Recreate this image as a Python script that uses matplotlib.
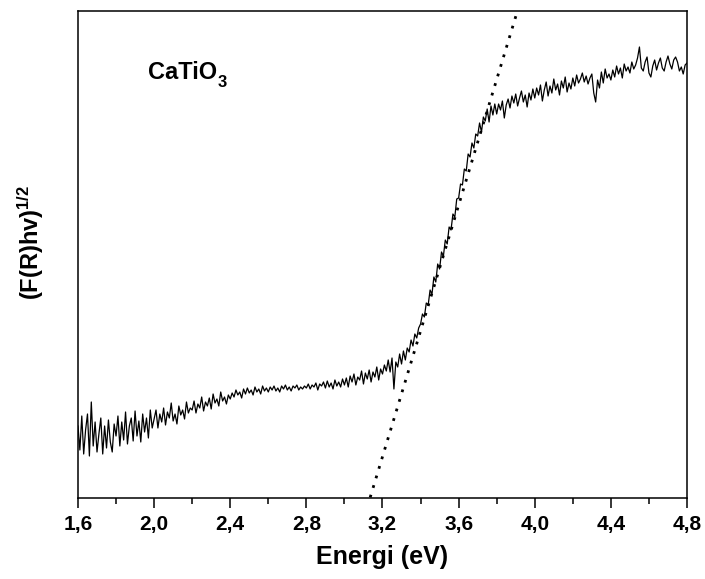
import matplotlib
matplotlib.use("Agg")
import matplotlib.pyplot as plt
from matplotlib.ticker import MultipleLocator, FuncFormatter
import numpy as np

plt.rcParams['font.family'] = ['Liberation Sans', 'DejaVu Sans']
plt.rcParams['font.weight'] = 'bold'
plt.rcParams['mathtext.fontset'] = 'custom'
plt.rcParams['mathtext.rm'] = 'Liberation Sans:bold'
plt.rcParams['mathtext.bf'] = 'Liberation Sans:bold'
plt.rcParams['mathtext.it'] = 'Liberation Sans:bold'

# energy grid 1.60 .. 4.80 eV, step 0.01
energy = np.round(np.linspace(1.6, 4.8, 321), 2)

# (F(R)hv)^1/2 in arbitrary units (20 values per 0.2 eV)
signal = [
    72, 48, 82, 44, 68, 84, 42, 96, 52, 76, 46, 64, 80, 44, 72, 50, 78, 56, 46, 74,
    62, 82, 52, 76, 58, 86, 54, 72, 80, 57, 87, 62, 77, 56, 84, 66, 80, 60, 88, 70,
    79, 88, 70, 84, 76, 90, 73, 86, 80, 95, 77, 84, 74, 92, 83, 88, 79, 96, 85, 90,
    88, 97, 85, 94, 90, 101, 87, 96, 92, 100, 89, 104, 95, 99, 92, 106, 97, 101, 94, 103,
    99, 105, 101, 108, 103, 106, 100, 109, 104, 110, 105, 108, 103, 111, 106, 109, 104, 112, 107, 110,
    106, 111, 108, 112, 107, 110, 106, 112, 109, 113, 108, 111, 107, 112, 110, 113, 108, 111, 109, 112,
    110, 114, 109, 113, 111, 115, 108, 114, 112, 116, 110, 117, 111, 115, 109, 118, 112, 116, 111, 119,
    113, 120, 111, 122, 116, 124, 113, 121, 118, 127, 114, 125, 119, 128, 116, 126, 121, 131, 118, 129,
    124, 133, 127, 138, 126, 140, 109, 136, 131, 144, 134, 147, 138, 150, 146, 158, 152, 164, 160, 170,
    174, 184, 181, 195, 193, 208, 204, 221, 216, 234, 229, 246, 242, 258, 254, 271, 268, 284, 281, 299,
    300, 314, 313, 329, 327, 344, 341, 355, 350, 364, 362, 375, 366, 381, 377, 389, 376, 392, 383, 394,
    384, 394, 388, 397, 380, 393, 399, 390, 402, 395, 404, 392, 400, 407, 396, 403, 391, 405, 398, 409,
    400, 410, 403, 413, 397, 408, 416, 402, 412, 405, 419, 408, 414, 403, 417, 410, 421, 406, 415, 409,
    420, 412, 423, 415, 419, 425, 416, 422, 414, 420, 424, 405, 396, 418, 410, 426, 415, 429, 420, 424,
    418, 428, 421, 432, 424, 430, 420, 434, 427, 431, 425, 436, 429, 433, 440, 451, 430, 427, 436, 441,
    425, 421, 432, 438, 428, 435, 440, 430, 427, 436, 442, 434, 429, 438, 441, 436, 427, 431, 424, 433,
    435,
]

# linear fit of the absorption edge (Tauc line)
fit_energy = [3.12, 3.92]
fit_signal = [-9, 494]

fig = plt.figure(figsize=(7.05, 5.79), dpi=100)
ax = fig.add_axes([0.1106, 0.1399, 0.8639, 0.8411])

ax.plot(energy, signal, color='black', lw=0.9)
ax.plot(fit_energy, fit_signal, color='black', lw=2,
        linestyle=(0, (1, 2.6)), dash_capstyle='butt')

ax.set_xlim(1.6, 4.8)
ax.set_ylim(0, 487)

ax.xaxis.set_major_locator(MultipleLocator(0.4))
ax.xaxis.set_minor_locator(MultipleLocator(0.2))
ax.xaxis.set_major_formatter(FuncFormatter(lambda v, p: f'{v:.1f}'.replace('.', ',')))
ax.tick_params(axis='x', which='major', direction='out', length=7, width=1.1,
               labelsize=15, pad=5)
ax.tick_params(axis='x', which='minor', direction='out', length=4, width=1.1)
ax.set_yticks([])
for lbl in ax.get_xticklabels():
    lbl.set_fontweight('bold')
for s in ax.spines.values():
    s.set_linewidth(1.1)

ax.set_xlabel('Energi (eV)', fontsize=18, fontweight='bold', labelpad=8)
ax.set_ylabel(r'$\mathbf{(F(R)hv)^{1/2}}$', fontsize=17)
ax.yaxis.set_label_coords(-0.052, 0.524)

t = ax.text(0.115, 0.86, 'CaTiO', transform=ax.transAxes,
            fontsize=17, fontweight='bold', ha='left', va='baseline')
ax.annotate('3', xy=(1, 0), xycoords=t, xytext=(0.5, -4), textcoords='offset points',
            fontsize=12, fontweight='bold', ha='left', va='bottom')

fig.savefig('out.png', dpi=100)
